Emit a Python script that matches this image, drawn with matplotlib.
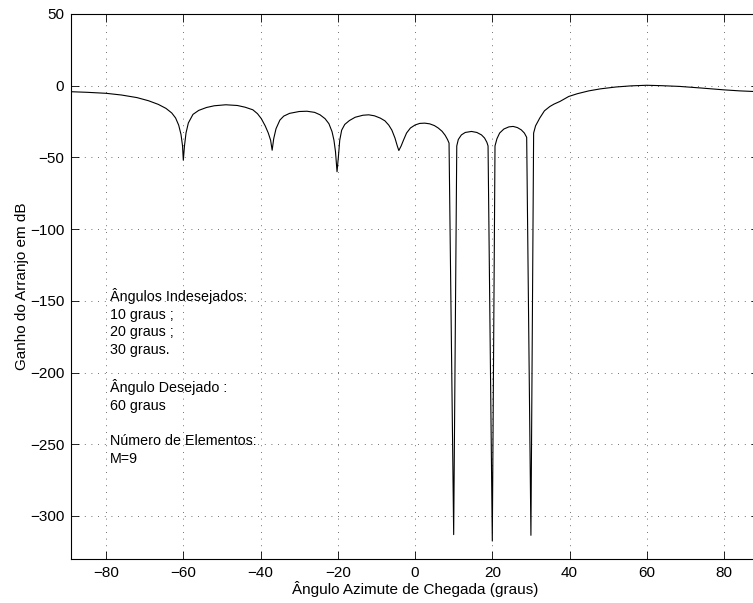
import matplotlib
matplotlib.use("Agg")
import matplotlib.pyplot as plt

plt.rcParams["font.family"] = ["Liberation Sans", "DejaVu Sans"]
plt.rcParams["font.size"] = 11

# points (angle in degrees, gain in dB)
angle = [-89, -85, -80, -76, -72, -69, -66.5, -64.5, -63, -62, -61.2,
         -60.6, -60.2, -60, -59.7, -59.3, -58.7, -57.5, -56, -54, -52,
         -49, -46, -44, -42, -40.8, -39.8, -38.8, -38, -37.4, -37,
         -36.6, -36, -35, -34, -32.5, -30, -28, -26, -24.6, -23.3, -22.3,
         -21.5, -21, -20.6, -20.2,
         -19.8, -19.5, -19, -18.2, -17, -15.5, -13.5, -12, -10.5, -9, -7.8,
         -6.8, -6, -5.2, -4.6, -4.2,
         -3.6, -3, -2.2, -1.2, 0, 1.2, 2.5, 3.8, 5, 6, 7, 7.8, 8.4, 8.8,
         10,
         10.8, 11.2, 12, 13, 14.6, 16, 17.2, 18, 18.6, 18.9,
         20,
         20.7, 21.2, 21.9, 23, 24.3, 25.4, 26.5, 27.5, 28.3, 28.9,
         30,
         30.7, 31.2, 32.3, 33.5, 34.9, 36, 37.5, 39.8, 42, 45, 48, 52, 56,
         60, 64, 68.5, 74, 80, 84, 89]
gain = [-4.2, -4.6, -5.3, -6.5, -8.3, -10.5, -13, -15.8, -19, -22.5, -27.5,
        -34, -42, -52, -42, -33, -26, -20, -17.2, -15.2, -14,
        -13.3, -13.8, -15, -16.8, -19.5, -23, -28, -33, -38, -45,
        -37, -30, -24, -21.2, -19.3, -18, -17.8, -18.6, -20.3, -23, -26.5,
        -32, -38, -46, -60,
        -48, -38, -31, -27, -24.3, -22, -20.6, -20.3, -21, -22.6, -24.5,
        -27.5, -31, -36.5, -42, -45.2,
        -42, -38, -33, -29.5, -27.4, -26.3, -26.1, -26.6, -27.8, -29.5,
        -31.8, -34.6, -37.5, -40,
        -313,
        -42, -37.5, -34.3, -32.6, -31.9, -32.6, -34.3, -36.5, -39.5, -42,
        -317.5,
        -42, -37, -33, -30.2, -28.7, -28.4, -29.2, -30.8, -33, -36,
        -313.5,
        -33, -28, -22.5, -17.5, -14.5, -12.8, -11, -7.5, -5.6, -3.6, -2.2,
        -0.9, -0.1, 0.3, 0, -0.5, -1.6, -2.9, -3.6, -4.2]

xticks = [-80, -60, -40, -20, 0, 20, 40, 60, 80]
yticks = [-300, -250, -200, -150, -100, -50, 0, 50]

note = ("Ângulos Indesejados:\n10 graus ;\n20 graus ;\n30 graus.\n\n"
        "Ângulo Desejado :\n60 graus\n\nNúmero de Elementos:\nM=9")

fig = plt.figure(figsize=(7.53, 6.03), dpi=100)
ax = fig.add_axes([0.0947, 0.0730, 0.913, 0.9038])

ax.plot(angle, gain, color="k", lw=0.8)

ax.set_xlim(-89, 89)
ax.set_ylim(-330, 50)
ax.set_xticks(xticks)
ax.set_yticks(yticks)
ax.tick_params(direction="in", length=5.5, width=0.6, top=True, right=True,
               labelsize=11, pad=5)
ax.grid(True, color="0.25", lw=0.6, linestyle=(0, (1, 7)))
for s in ax.spines.values():
    s.set_linewidth(0.8)

ax.text(-79, -203, note, ha="left", va="center", fontsize=10.3,
        linespacing=1.33)

ax.set_xlabel("Ângulo Azimute de Chegada (graus)", fontsize=11, labelpad=1)
ax.set_ylabel("Ganho do Arranjo em dB", fontsize=11, labelpad=1)

fig.savefig("out.png", dpi=100)
